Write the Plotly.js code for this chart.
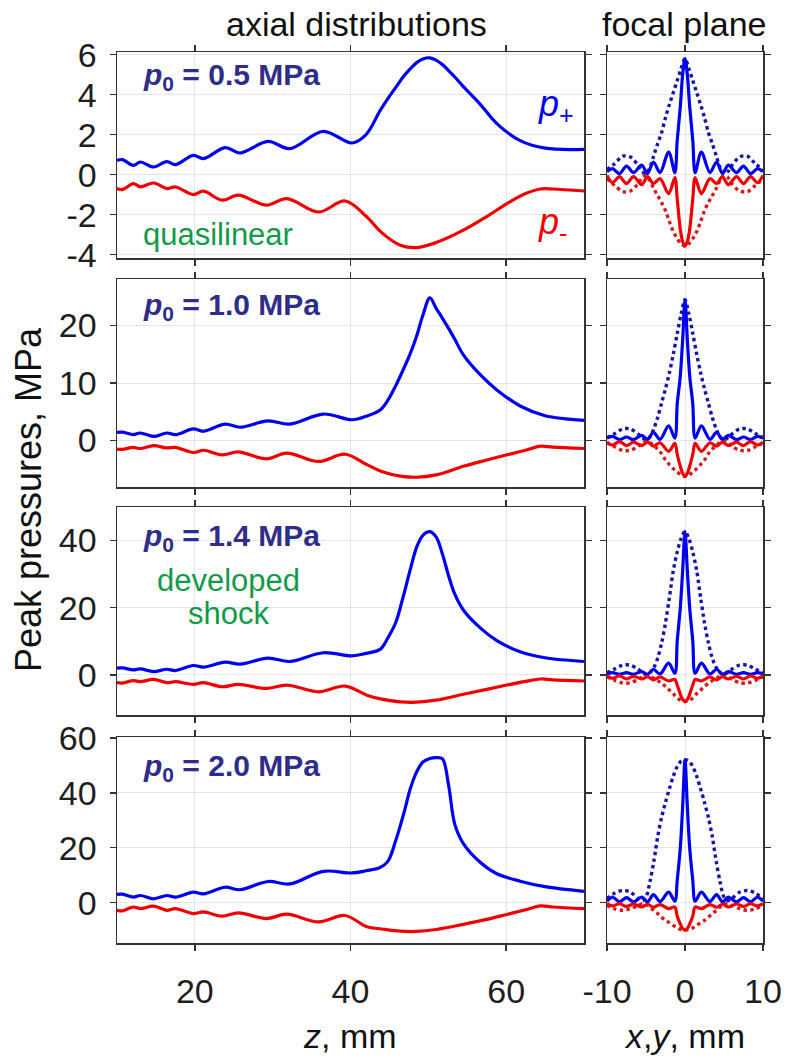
<!DOCTYPE html>
<html>
<head>
<meta charset="utf-8">
<script src="https://cdn.plot.ly/plotly-3.0.1.min.js"></script>
<style>html,body{margin:0;padding:0;background:#fff;}#chart{width:787px;height:1059px;}</style>
</head>
<body>
<div id="chart"></div>
<script>
// ---------- DATA ----------
// axial distributions: z grid for p+ and p- curves (mm)
const zPlus = [10, 10.7, 12.1, 13, 14.7, 16.4, 17.5, 19.8, 21.1, 23.9, 25.8, 29.4, 32.2, 36.5, 40.2, 42, 43.8, 44.8, 45.8, 46.8, 47.7, 48.5, 49.3, 50.2, 51.0, 51.8, 52.6, 53.4, 54.5, 56.7, 58.8, 61.8, 65, 70];
const pPlus05 = [0.71, 0.75, 0.46, 0.63, 0.38, 0.65, 0.5, 0.96, 0.8, 1.35, 1.08, 1.66, 1.3, 2.16, 1.58, 2.0, 3.2, 3.8, 4.35, 4.9, 5.3, 5.6, 5.78, 5.84, 5.72, 5.5, 5.2, 4.88, 4.4, 3.5, 2.55, 1.7, 1.32, 1.26];
const pPlus10 = [1.4, 1.45, 1.0, 1.3, 0.7, 1.3, 1.0, 2.0, 1.6, 2.85, 2.3, 3.4, 2.85, 4.6, 3.6, 4.2, 5.3, 7.0, 9.5, 12.4, 15.2, 18.2, 21.8, 24.8, 23.0, 21.3, 19.5, 17.6, 14.9, 11.4, 8.8, 6.0, 4.3, 3.5];
const pPlus14 = [2.0, 2.1, 1.5, 1.8, 1.0, 1.7, 1.3, 2.8, 2.3, 3.8, 3.2, 5.0, 4.0, 6.6, 5.65, 6.4, 7.6, 11, 15.5, 23.5, 31.5, 38, 41.5, 42.6, 41, 36, 29.5, 24, 19.3, 13.9, 10.2, 6.9, 5.1, 4.0];
const pPlus20 = [3.0, 3.1, 2.0, 2.6, 1.4, 2.6, 2.0, 3.8, 3.2, 5.6, 4.7, 7.7, 6.8, 11.4, 10.8, 11.6, 12.8, 15, 22.5, 32, 41.6, 47.6, 51.2, 52.5, 52.8, 52.4, 42.8, 28.5, 21.5, 14.6, 10.5, 7.8, 5.8, 4.1];

const zMinus = [10, 10.7, 12.1, 13, 14.7, 16.4, 17.5, 19.8, 21.1, 23.5, 25.6, 29.2, 31.8, 35.9, 39.3, 42.1, 44, 46.4, 48.5, 51, 54.5, 57.5, 60.1, 62.5, 64.4, 66, 70];
const pMinus05 = [-0.7, -0.75, -0.45, -0.61, -0.42, -0.7, -0.62, -1.0, -0.83, -1.28, -1.03, -1.53, -1.2, -1.87, -1.32, -2.12, -2.9, -3.53, -3.65, -3.4, -2.78, -2.1, -1.45, -0.95, -0.72, -0.72, -0.82];
const pMinus10 = [-1.5, -1.55, -1.2, -1.4, -0.9, -1.3, -1.2, -2.1, -1.7, -2.5, -2.0, -3.2, -2.2, -3.65, -2.4, -4.2, -5.4, -6.2, -6.4, -6.0, -4.5, -3.4, -2.5, -1.7, -1.0, -1.15, -1.4];
const pMinus14 = [-2.3, -2.4, -1.7, -2.0, -1.3, -2.3, -2.0, -2.8, -2.3, -3.5, -2.8, -4.0, -3.0, -5.0, -3.3, -6.0, -7.2, -8.0, -8.1, -7.5, -5.75, -4.3, -3.0, -1.9, -1.2, -1.45, -1.8];
const pMinus20 = [-2.8, -3.0, -1.6, -2.2, -1.3, -2.8, -2.2, -4.0, -3.4, -4.9, -3.7, -5.8, -4.2, -7.0, -4.7, -8.8, -9.6, -10.4, -10.5, -9.8, -7.9, -6.1, -4.3, -2.6, -1.2, -1.6, -2.2];

// focal plane, solid curves
const xFocal = [-10, -9.3, -8.4, -7.5, -6.6, -5.55, -4.8, -4.05, -3.2, -2.1, -1.3, -1.0, -0.6, -0.3, 0, 0.3, 0.6, 1.0, 1.3, 2.1, 3.2, 4.05, 4.8, 5.55, 6.6, 7.5, 8.4, 9.3, 10];
const fPlus05 = [0.15, 0.3, 0.05, 0.42, 0.1, 0.47, 0.05, 0.63, 0.1, 1.13, 0.1, 1.7, 3.4, 5.0, 5.8, 5.0, 3.4, 1.7, 0.1, 1.13, 0.1, 0.63, 0.05, 0.47, 0.1, 0.42, 0.05, 0.3, 0.15];
const fMinus05 = [-0.05, -0.4, -0.1, -0.45, -0.1, -0.5, -0.1, -0.45, -0.2, -0.95, -0.15, -1.2, -2.75, -3.35, -3.58, -3.35, -2.75, -1.2, -0.15, -0.95, -0.2, -0.45, -0.1, -0.5, -0.1, -0.45, -0.1, -0.4, -0.05];
const fPlus10 = [0.4, 0.7, 0.15, 0.6, 0.15, 0.9, 0.2, 1.4, 0.2, 2.55, 0.4, 6.3, 11.3, 17.5, 24.5, 17.5, 11.3, 6.3, 0.4, 2.55, 0.2, 1.4, 0.2, 0.9, 0.15, 0.6, 0.15, 0.7, 0.4];
const fMinus10 = [-0.3, -0.8, -0.2, -0.9, -0.3, -0.9, -0.3, -1.0, -0.4, -1.9, -0.5, -2.4, -4.5, -5.7, -6.26, -5.7, -4.5, -2.4, -0.5, -1.9, -0.4, -1.0, -0.3, -0.9, -0.3, -0.9, -0.2, -0.8, -0.3];
const fPlus14 = [0.3, 0.7, 0.2, 0.7, 0.2, 1.0, 0.2, 1.7, 0.3, 3.5, 0.5, 10, 20, 31, 42.6, 31, 20, 10, 0.5, 3.5, 0.3, 1.7, 0.2, 1.0, 0.2, 0.7, 0.2, 0.7, 0.3];
const fMinus14 = [-0.3, -1.0, -0.3, -1.2, -0.4, -1.2, -0.5, -1.5, -0.6, -1.8, -1.3, -3.0, -5.7, -7.3, -7.9, -7.3, -5.7, -3.0, -1.3, -1.8, -0.6, -1.5, -0.5, -1.2, -0.4, -1.2, -0.3, -1.0, -0.3];
const fPlus20 = [0.5, 2.0, 0.3, 1.8, 0.3, 2.0, 0.3, 2.9, 0.4, 3.8, 0.5, 8, 20, 35, 52, 35, 20, 8, 0.5, 3.8, 0.4, 2.9, 0.3, 2.0, 0.3, 1.8, 0.3, 2.0, 0.5];
const fMinus20 = [-0.4, -1.2, -0.4, -1.4, -0.5, -1.6, -0.6, -1.7, -0.7, -2.2, -1.6, -5.0, -7.8, -9.4, -10, -9.4, -7.8, -5.0, -1.6, -2.2, -0.7, -1.7, -0.6, -1.6, -0.5, -1.4, -0.4, -1.2, -0.4];

// focal plane, dotted curves
const xDot = [-10, -9, -8, -7, -6, -5.5, -5, -4.5, -4, -3.5, -3, -2.5, -2, -1.5, -1, -0.5, 0, 0.5, 1, 1.5, 2, 2.5, 3, 3.5, 4, 4.5, 5, 5.5, 6, 7, 8, 9, 10];
const dPlus05 = [0.25, 0.55, 0.92, 0.88, 0.45, 0.15, 0.05, 0.35, 0.95, 1.55, 2.1, 2.85, 3.5, 4.1, 4.7, 5.3, 5.8, 5.3, 4.7, 4.1, 3.5, 2.85, 2.1, 1.55, 0.95, 0.35, 0.05, 0.15, 0.45, 0.88, 0.92, 0.55, 0.25];
const dMinus05 = [-0.2, -0.55, -0.85, -0.82, -0.45, -0.15, -0.05, -0.3, -0.7, -1.05, -1.4, -1.8, -2.35, -2.85, -3.2, -3.45, -3.58, -3.45, -3.2, -2.85, -2.35, -1.8, -1.4, -1.05, -0.7, -0.3, -0.05, -0.15, -0.45, -0.82, -0.85, -0.55, -0.2];
const dPlus10 = [0.5, 1.2, 2.0, 2.0, 1.1, 0.5, 0.15, 0.6, 2.0, 4.0, 6.5, 9.0, 11.8, 15.0, 18.6, 22.0, 24.5, 22.0, 18.6, 15.0, 11.8, 9.0, 6.5, 4.0, 2.0, 0.6, 0.15, 0.5, 1.1, 2.0, 2.0, 1.2, 0.5];
const dMinus10 = [-0.4, -1.1, -1.75, -1.7, -1.0, -0.45, -0.1, -0.35, -0.9, -1.5, -2.3, -3.4, -4.2, -4.9, -5.5, -6.0, -6.26, -6.0, -5.5, -4.9, -4.2, -3.4, -2.3, -1.5, -0.9, -0.35, -0.1, -0.45, -1.0, -1.7, -1.75, -1.1, -0.4];
const dPlus14 = [0.6, 1.8, 2.9, 2.9, 1.7, 0.8, 0.2, 0.7, 2.2, 5.0, 9.5, 15.5, 23, 31, 36.5, 40.5, 42.6, 40.5, 36.5, 31, 23, 15.5, 9.5, 5.0, 2.2, 0.7, 0.2, 0.8, 1.7, 2.9, 2.9, 1.8, 0.6];
const dMinus14 = [-0.6, -1.6, -2.4, -2.3, -1.3, -0.6, -0.15, -0.4, -1.0, -1.7, -2.5, -3.4, -4.5, -5.6, -6.8, -7.6, -7.9, -7.6, -6.8, -5.6, -4.5, -3.4, -2.5, -1.7, -1.0, -0.4, -0.15, -0.6, -1.3, -2.3, -2.4, -1.6, -0.6];
const dPlus20 = [1.5, 3.5, 4.4, 3.8, 1.5, 0.8, 2.0, 7.5, 15, 24, 31, 36.5, 41.5, 46, 49.5, 51.5, 52, 51.5, 49.5, 46, 41.5, 36.5, 31, 24, 15, 7.5, 2.0, 0.8, 1.5, 3.8, 4.4, 3.5, 1.5];
const dMinus20 = [-1.0, -2.3, -2.8, -2.2, -1.0, -0.5, -0.6, -1.6, -2.9, -4.0, -5.3, -6.5, -7.3, -8.3, -9.2, -9.8, -10, -9.8, -9.2, -8.3, -7.3, -6.5, -5.3, -4.0, -2.9, -1.6, -0.6, -0.5, -1.0, -2.2, -2.8, -2.3, -1.0];

// panel labels, ticks and axis ranges
const panelLabels = ['0.5', '1.0', '1.4', '2.0'];
const yRanges = [[-4.17, 6.13], [-8.1, 28.1], [-11.9, 49.9], [-14.7, 60.3]];
const yTickVals = [[-4, -2, 0, 2, 4, 6], [0, 10, 20], [0, 20, 40], [0, 20, 40, 60]];
const yTickText = [['-4', '-2', '0', '2', '4', '6'], ['0', '10', '20'], ['0', '20', '40'], ['0', '20', '40', '60']];
const zRange = [10, 70];
const zTickVals = [20, 40, 60];
const zTickText = ['20', '40', '60'];
const xyRange = [-10, 10];
const xyTickVals = [-10, 0, 10];
const xyTickText = ['-10', '0', '10'];

// ---------- LAYOUT ----------
const W = 787, H = 1059;
const fx = v => v / W;
const fy = v => 1 - v / H;
const BLUE = '#0000f0', RED = '#f00000', BLUE_D = '#1414b0', RED_D = '#d81a1a';
const NAVY = '#2e2d8a', GREEN = '#119a4a';
const FONT = 'Liberation Sans, Arial, Helvetica, sans-serif';
const TXT = '#1e1e1e';

const panelsPx = [[52, 258], [279, 487], [507, 715], [737, 943]];
const leftPx = [117, 584], rightPx = [607, 763];

const axBase = {
  showline: true, linecolor: '#333', linewidth: 1.5, mirror: 'ticks',
  ticks: 'outside', ticklen: 6, tickwidth: 1.5, tickcolor: '#333',
  showgrid: true, gridcolor: '#e4e4e4', gridwidth: 1, zeroline: false,
  tickmode: 'array',
  tickfont: {family: FONT, size: 34, color: TXT}, fixedrange: true
};

const plusAx = [pPlus05, pPlus10, pPlus14, pPlus20];
const minusAx = [pMinus05, pMinus10, pMinus14, pMinus20];
const plusF = [fPlus05, fPlus10, fPlus14, fPlus20];
const minusF = [fMinus05, fMinus10, fMinus14, fMinus20];
const plusD = [dPlus05, dPlus10, dPlus14, dPlus20];
const minusD = [dMinus05, dMinus10, dMinus14, dMinus20];

const traces = [];
const layout = {
  width: W, height: H, margin: {l: 0, r: 0, t: 0, b: 0},
  paper_bgcolor: '#fff', plot_bgcolor: '#fff', showlegend: false,
  font: {family: FONT, color: TXT},
  annotations: []
};

for (let i = 0; i < 4; i++) {
  const L = 2 * i + 1, R = 2 * i + 2;
  const nL = i === 0 ? '' : String(L);
  const yd = [fy(panelsPx[i][1]), fy(panelsPx[i][0])];
  const last = i === 3;
  layout['xaxis' + nL] = Object.assign({}, axBase, {
    domain: [fx(leftPx[0]), fx(leftPx[1])], anchor: 'y' + nL, range: zRange,
    tickvals: zTickVals, ticktext: zTickText, showticklabels: last, ticklabelstandoff: 12
  });
  layout['yaxis' + nL] = Object.assign({}, axBase, {
    domain: yd, anchor: 'x' + nL, range: yRanges[i],
    tickvals: yTickVals[i], ticktext: yTickText[i], ticklabelstandoff: 6
  });
  layout['xaxis' + R] = Object.assign({}, axBase, {
    domain: [fx(rightPx[0]), fx(rightPx[1])], anchor: 'y' + R, range: xyRange,
    tickvals: xyTickVals, ticktext: xyTickText, showticklabels: last, ticklabelstandoff: 12
  });
  layout['yaxis' + R] = Object.assign({}, axBase, {
    domain: yd, anchor: 'x' + R, range: yRanges[i],
    tickvals: yTickVals[i], ticktext: yTickText[i], showticklabels: false
  });
  const xa = 'x' + nL, ya = 'y' + nL;
  const xb = 'x' + R, yb = 'y' + R;
  traces.push({x: zPlus, y: plusAx[i], xaxis: xa, yaxis: ya, mode: 'lines',
    line: {color: BLUE, width: 3.2, shape: 'spline', smoothing: 1}});
  traces.push({x: zMinus, y: minusAx[i], xaxis: xa, yaxis: ya, mode: 'lines',
    line: {color: RED, width: 3.2, shape: 'spline', smoothing: 1}});
  traces.push({x: xDot, y: plusD[i], xaxis: xb, yaxis: yb, mode: 'lines',
    line: {color: BLUE_D, width: 3.4, dash: 'dot', shape: 'spline', smoothing: 0.9}});
  traces.push({x: xDot, y: minusD[i], xaxis: xb, yaxis: yb, mode: 'lines',
    line: {color: RED_D, width: 3.4, dash: 'dot', shape: 'spline', smoothing: 0.9}});
  traces.push({x: xFocal, y: plusF[i], xaxis: xb, yaxis: yb, mode: 'lines',
    line: {color: BLUE, width: 3.2, shape: 'spline', smoothing: 0.9}});
  traces.push({x: xFocal, y: minusF[i], xaxis: xb, yaxis: yb, mode: 'lines',
    line: {color: RED, width: 3.2, shape: 'spline', smoothing: 0.9}});
}

function ann(text, x, y, opts) {
  layout.annotations.push(Object.assign({
    text: text, x: fx(x), y: fy(y), xref: 'paper', yref: 'paper',
    showarrow: false, xanchor: 'center', yanchor: 'middle',
    font: {family: FONT, size: 34, color: '#111'}
  }, opts || {}));
}
ann('axial distributions', 356, 24);
ann('focal plane', 684, 24);
ann('Peak pressures, MPa', 28, 500, {textangle: -90, font: {family: FONT, size: 36, color: '#111'}});
ann('<i>z</i>, mm', 350, 1036);
ann('<i>x</i>,<i>y</i>, mm', 684, 1036);
const labelY = [76, 306, 537, 767];
for (let i = 0; i < 4; i++) {
  ann('<b><i>p</i><sub>0</sub> = ' + panelLabels[i] + ' MPa</b>', 141, labelY[i],
    {xanchor: 'left', font: {family: FONT, size: 30, color: NAVY}});
}
ann('<i>p</i><sub>+</sub>', 536, 106, {xanchor: 'left', font: {family: FONT, size: 36, color: BLUE}});
ann('<i>p</i><sub>-</sub>', 536, 224, {xanchor: 'left', font: {family: FONT, size: 36, color: RED}});
ann('quasilinear', 141, 234, {xanchor: 'left', font: {family: FONT, size: 31, color: GREEN}});
ann('developed', 228, 580, {font: {family: FONT, size: 31, color: GREEN}});
ann('shock', 228, 613, {font: {family: FONT, size: 31, color: GREEN}});

Plotly.newPlot('chart', traces, layout, {staticPlot: true, displayModeBar: false});
</script>
</body>
</html>
